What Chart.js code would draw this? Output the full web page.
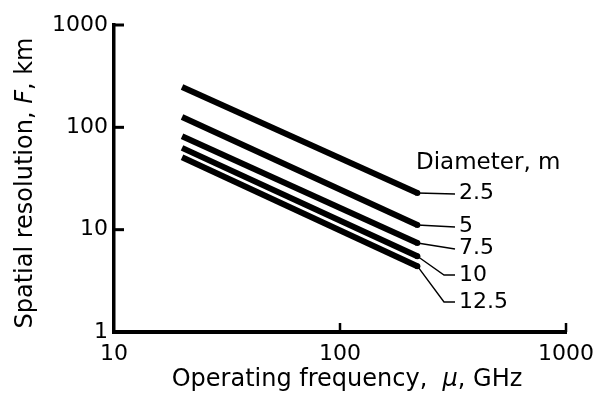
<!DOCTYPE html>
<html>
<head>
<meta charset="utf-8">
<script src="https://cdn.jsdelivr.net/npm/chart.js@4.4.1/dist/chart.umd.min.js"></script>
<style>
  html, body { margin: 0; padding: 0; background: #fff; }
  #wrap { width: 603px; height: 395px; }
</style>
</head>
<body>
<div id="wrap"><canvas id="chart" width="603" height="395"></canvas></div>
<script>
// values
const xTicks = [10, 100, 1000];
const yTicks = [1, 10, 100, 1000];
const freqGHz = [20, 220];
const diameters = ["2.5", "5", "7.5", "10", "12.5"];
const res25 = [248, 22.8];
const res5 = [126, 11.1];
const res75 = [82, 7.4];
const res10 = [63, 5.5];
const res125 = [51, 4.4];
const seriesValues = [res25, res5, res75, res10, res125];

const tickFont = { family: "DejaVu Sans", size: 22 };

function makeDataset(label, values) {
  return {
    label: label,
    data: freqGHz.map((f, i) => ({ x: f, y: values[i] })),
    borderColor: "#000",
    borderWidth: 6,
    pointRadius: 0,
    fill: false,
    tension: 0
  };
}

// leader lines, labels, inward ticks and axis titles
const annotate = {
  id: "annotate",
  afterDraw(chart) {
    const ctx = chart.ctx;
    const area = chart.chartArea;
    const xs = chart.scales.x, ys = chart.scales.y;
    ctx.save();
    ctx.strokeStyle = "#000";
    ctx.fillStyle = "#000";

    // inward tick marks
    ctx.lineWidth = 3;
    yTicks.slice(1).forEach(v => {
      const y = ys.getPixelForValue(v);
      ctx.beginPath();
      ctx.moveTo(area.left, y);
      ctx.lineTo(area.left + 10, y);
      ctx.stroke();
    });
    ctx.lineWidth = 2.5;
    xTicks.slice(1).forEach(v => {
      const x = xs.getPixelForValue(v);
      ctx.beginPath();
      ctx.moveTo(x, area.bottom);
      ctx.lineTo(x, area.bottom - 9);
      ctx.stroke();
    });

    // diameter labels with leaders
    const labelX = area.right - 107;
    const labelY = [193, 226, 248, 275, 302];
    ctx.font = "22px 'DejaVu Sans'";
    ctx.textAlign = "left";
    ctx.textBaseline = "middle";
    ctx.lineWidth = 1.4;
    diameters.forEach((d, i) => {
      const vals = seriesValues[i];
      const n = vals.length - 1;
      const px = xs.getPixelForValue(freqGHz[n]);
      const py = ys.getPixelForValue(vals[n]);
      const ly = labelY[i];
      ctx.beginPath();
      ctx.arc(px, py, 3, 0, Math.PI * 2);
      ctx.fill();
      ctx.beginPath();
      ctx.moveTo(px, py);
      if (i >= 3) {
        ctx.lineTo(labelX - 15, ly);
        ctx.lineTo(labelX - 4, ly);
      } else {
        ctx.lineTo(labelX - 4, ly + 1);
      }
      ctx.stroke();
      ctx.fillText(d, labelX, ly);
    });
    ctx.font = "23px 'DejaVu Sans'";
    ctx.fillText("Diameter, m", area.right - 150, 163);

    // axis titles, with italic symbol
    function mixed(parts, cx, cy) {
      let total = 0;
      parts.forEach(p => { ctx.font = p[1]; total += ctx.measureText(p[0]).width; });
      let x = cx - total / 2;
      ctx.textAlign = "left";
      ctx.textBaseline = "middle";
      parts.forEach(p => {
        ctx.font = p[1];
        ctx.fillText(p[0], x, cy);
        x += ctx.measureText(p[0]).width;
      });
    }
    const reg = "24px 'DejaVu Sans'";
    const ita = "italic 24px 'DejaVu Sans'";
    mixed([["Operating frequency,  ", reg], ["\u03bc", ita], [", GHz", reg]], 347, 380);
    ctx.save();
    ctx.translate(26, 183);
    ctx.rotate(-Math.PI / 2);
    mixed([["Spatial resolution, ", reg], ["F", ita], [", km", reg]], 0, 0);
    ctx.restore();

    ctx.restore();
  }
};

const ctx = document.getElementById("chart").getContext("2d");
new Chart(ctx, {
  type: "line",
  data: {
    datasets: diameters.map((d, i) => makeDataset(d, seriesValues[i]))
  },
  options: {
    responsive: false,
    animation: false,
    layout: { padding: { top: 25, right: 33, left: 0, bottom: 0 } },
    plugins: {
      legend: { display: false },
      tooltip: { enabled: false }
    },
    scales: {
      x: {
        type: "logarithmic",
        min: 10,
        max: 1000,
        afterBuildTicks: s => { s.ticks = xTicks.map(v => ({ value: v })); },
        afterFit: s => { s.height = 63; },
        grid: { display: false, drawTicks: false },
        border: { display: true, color: "#000", width: 4 },
        ticks: {
          color: "#000",
          font: tickFont,
          padding: 9,
          maxRotation: 0,
          autoSkip: false,
          callback: v => String(v)
        }
      },
      y: {
        type: "logarithmic",
        min: 1,
        max: 1000,
        afterBuildTicks: s => { s.ticks = yTicks.map(v => ({ value: v })); },
        afterFit: s => { s.width = 114; },
        grid: { display: false, drawTicks: false },
        border: { display: true, color: "#000", width: 3.5 },
        ticks: {
          color: "#000",
          font: tickFont,
          padding: 6,
          autoSkip: false,
          callback: v => String(v)
        }
      }
    }
  },
  plugins: [annotate]
});
</script>
</body>
</html>
